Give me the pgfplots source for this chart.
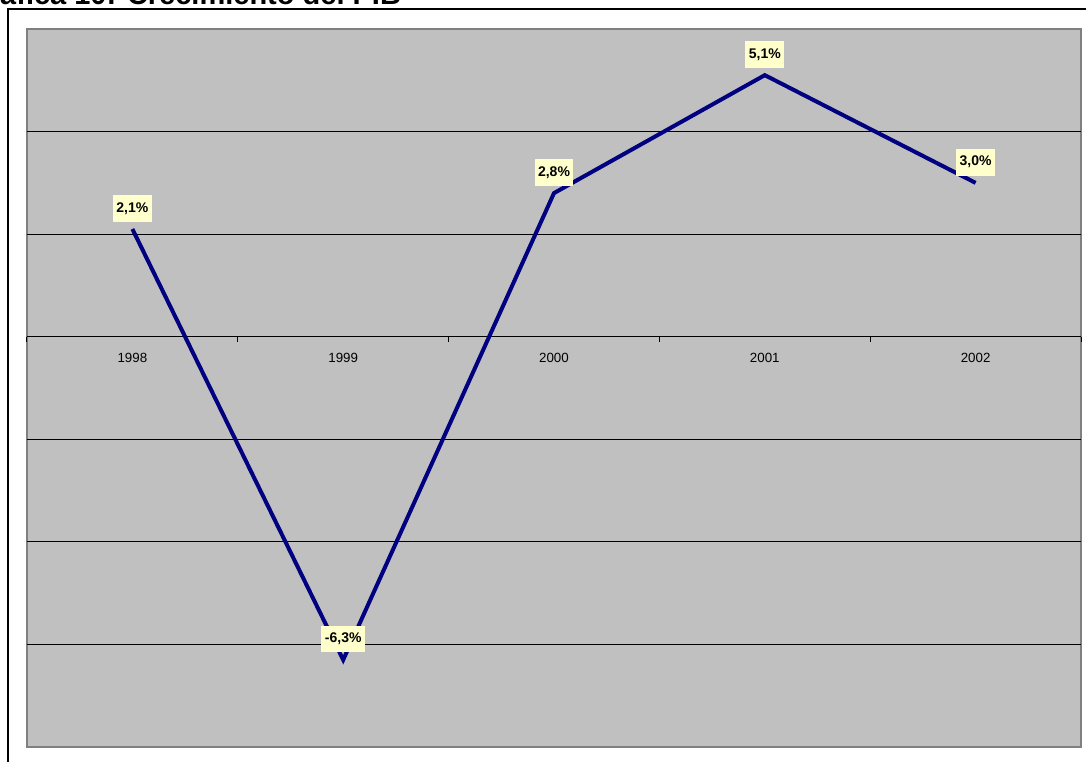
\documentclass[border=0pt]{standalone}
\usepackage{fontspec}
\setmainfont{Liberation Sans}
\usepackage{pgfplots}
\pgfplotsset{compat=1.18}
\definecolor{plotbg}{HTML}{C0C0C0}
\definecolor{plotborder}{HTML}{808080}
\definecolor{navyline}{HTML}{000080}
\definecolor{labelbg}{HTML}{FFFFCC}
\begin{document}
\begin{tikzpicture}
\useasboundingbox (0,0) rectangle (814.5pt,-570.75pt);
\clip (0,0) rectangle (814.5pt,-570.75pt);
% title (cut at the top in the reference)
\node[anchor=base west, inner sep=0pt, font=\bfseries\fontsize{21.75}{26}\selectfont] at (-25.4pt,-3.2pt) {Gráfica 10: Crecimiento del PIB};
% outer frame
\draw[line width=1.5pt, black] (6pt,-7.1pt) rectangle (840pt,-600pt);
\begin{axis}[
  at={(20.25pt,-560.25pt)}, anchor=south west,
  scale only axis, width=790.5pt, height=538.5pt,
  xmin=-0.5, xmax=4.5, ymin=-8, ymax=6,
  axis background/.style={fill=plotbg, draw=plotborder, line width=1.2pt},
  axis x line*=middle, axis y line*=left,
  x axis line style={black, line width=0.75pt},
  y axis line style={draw=none},
  xtick={0,1,2,3,4},
  xticklabels={1998,1999,2000,2001,2002},
  xtick style={draw=none},
  extra x ticks={-0.5,0.5,1.5,2.5,3.5,4.5},
  extra x tick labels={},
  extra x tick style={xtick style={draw=black, line width=0.75pt}},
  tick align=outside,
  major tick length=3.75pt,
  xticklabel style={font=\fontsize{10}{12}\selectfont, yshift=-5pt},
  ytick={-6,-4,-2,0,2,4},
  yticklabels={},
  ytick style={draw=none},
  ymajorgrids,
  major grid style={black, line width=0.75pt},
  clip=false,
]
\addplot[navyline, line width=3pt, mark=none,
  nodes near coords, point meta=explicit symbolic,
  every node near coord/.style={anchor=south, yshift=4pt, fill=labelbg, text=black,
    font=\bfseries\fontsize{10.5}{12}\selectfont, inner xsep=2.6pt, minimum height=20pt}]
  coordinates {(0,2.1) [2,1\%] (1,-6.3) [-6,3\%] (2,2.8) [2,8\%] (3,5.1) [5,1\%] (4,3.0) [3,0\%]};
\end{axis}
\end{tikzpicture}
\end{document}
